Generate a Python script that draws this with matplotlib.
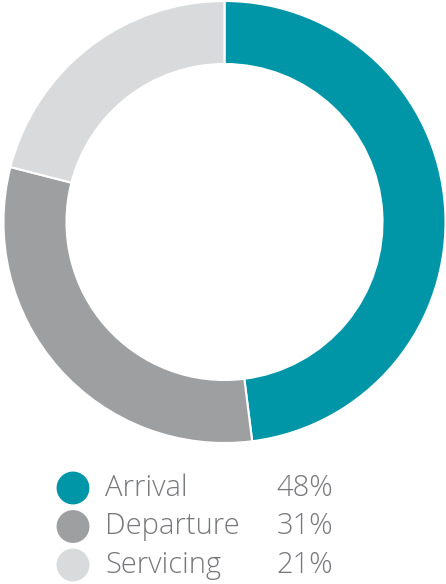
import matplotlib.pyplot as plt

labels = ["Arrival", "Departure", "Servicing"]
shares = [48, 31, 21]
colors = ["#0096A8", "#9E9FA1", "#D9DADB"]

W, H = 446, 584
fig = plt.figure(figsize=(W / 100, H / 100), dpi=100)

# donut
cx, cy, r = 224.5, 222, 221
ax = fig.add_axes([(cx - r) / W, (H - cy - r) / H, 2 * r / W, 2 * r / H])
ax.pie(shares, colors=colors, startangle=90, counterclock=False,
       wedgeprops=dict(width=0.285, edgecolor="white", linewidth=1.5))
ax.set_xlim(-1, 1)
ax.set_ylim(-1, 1)
ax.set_aspect("equal")
ax.axis("off")

# legend
lax = fig.add_axes([0, 0, 1, 1])
lax.set_xlim(0, W)
lax.set_ylim(H, 0)
lax.axis("off")
text_color = "#77787B"
for i, (lab, val, col) in enumerate(zip(labels, shares, colors)):
    y = 488 + i * 38.5
    lax.scatter([73], [y], s=560, color=col, edgecolors="none")
    lax.text(105, y, lab, fontsize=21, color=text_color, va="center",
             ha="left", family="Open Sans", fontweight="light")
    lax.text(333, y, f"{val}%", fontsize=21, color=text_color, va="center",
             ha="right", family="Open Sans", fontweight="light")

fig.savefig("out.png", dpi=100)
